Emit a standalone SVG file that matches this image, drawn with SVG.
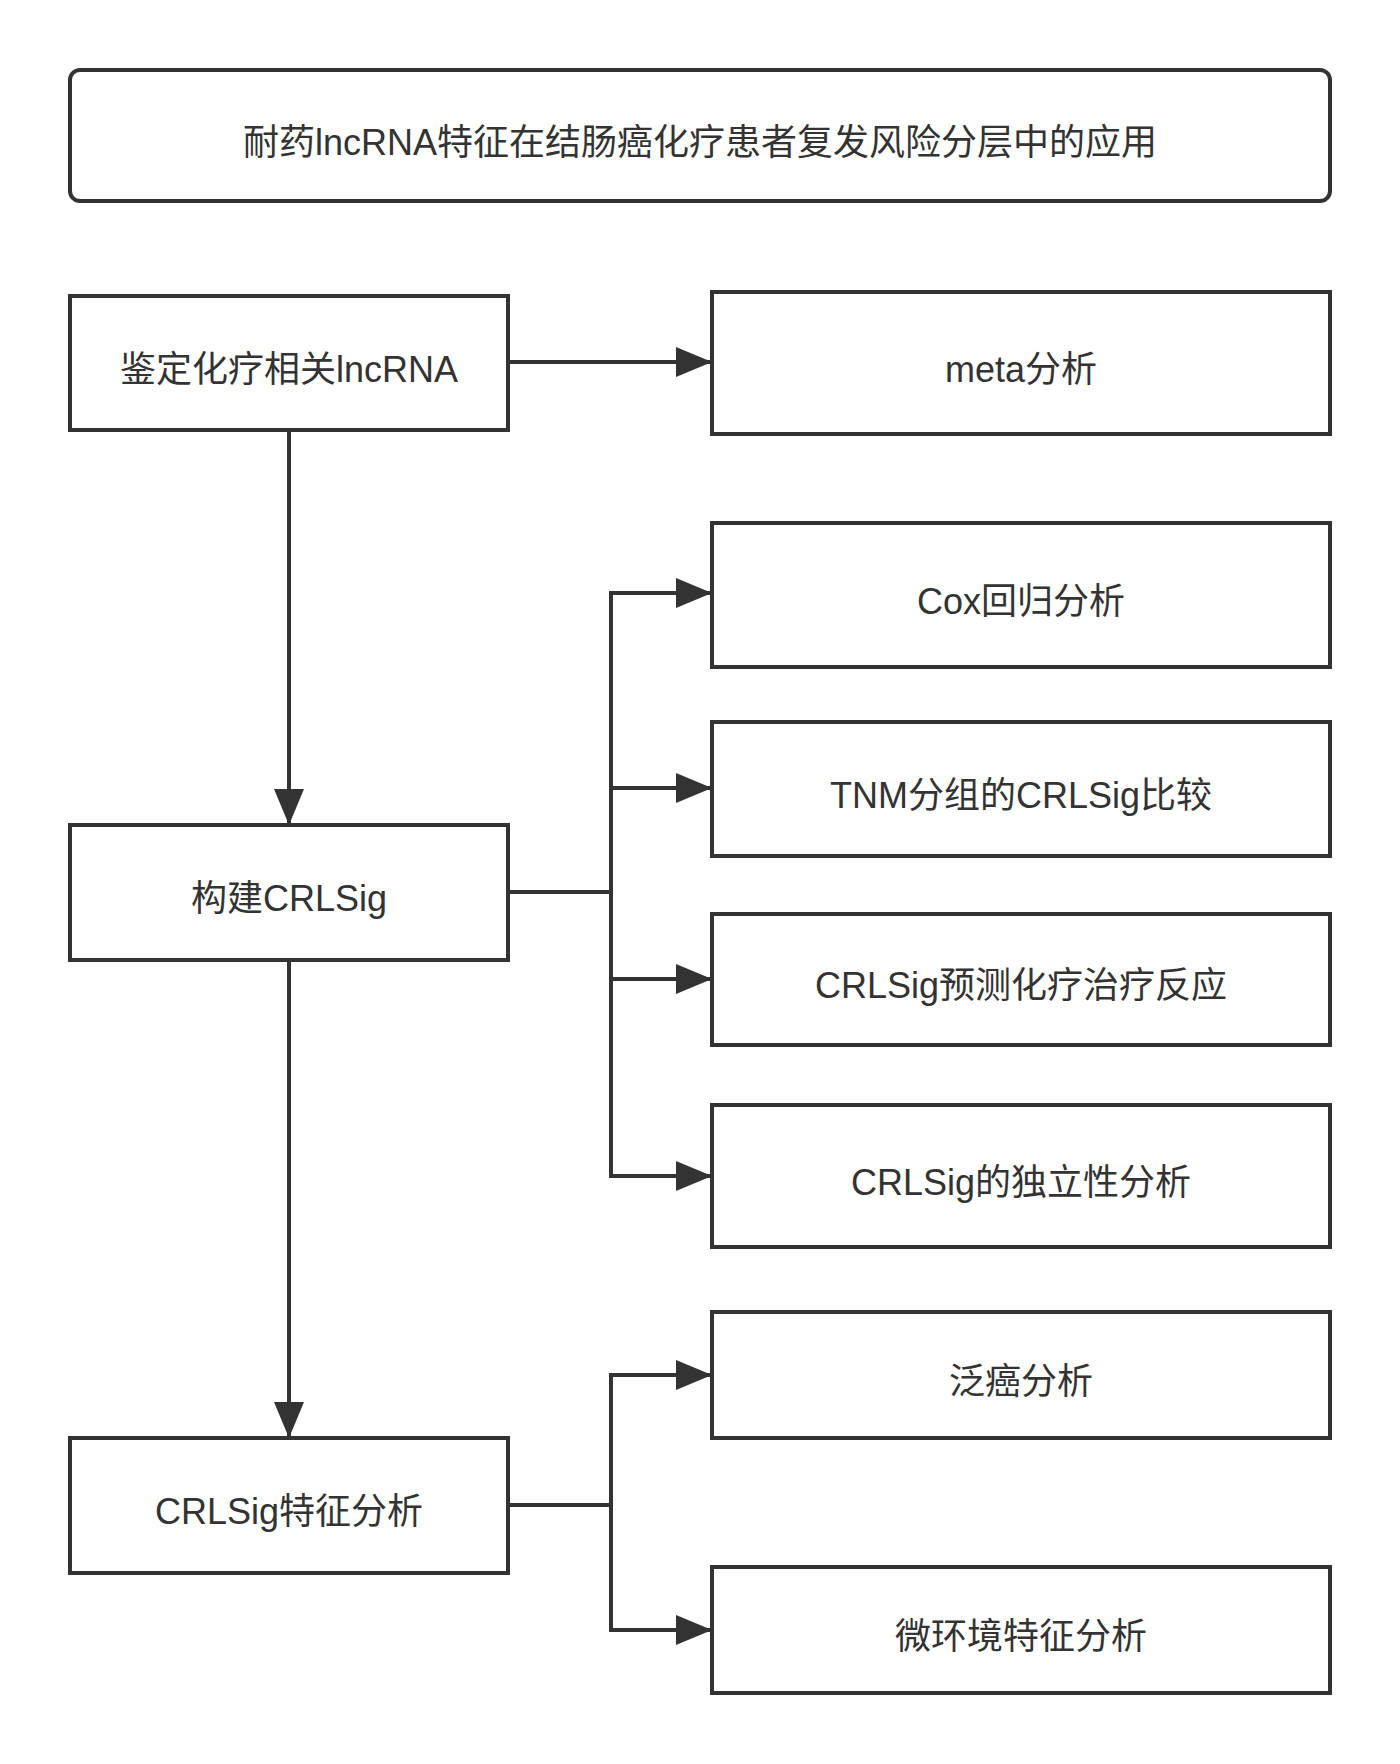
<svg xmlns="http://www.w3.org/2000/svg" width="1400" height="1764" viewBox="0 0 1400 1764">
<style>
.box{fill:#fff;stroke:#333;stroke-width:4}
.lbl{font-family:"Liberation Sans","Noto Sans CJK SC",sans-serif;font-size:36px;fill:#333;text-anchor:middle}
.edge{fill:none;stroke:#333;stroke-width:4;stroke-linejoin:miter}
</style>
<defs>
<marker id="arr" markerUnits="userSpaceOnUse" markerWidth="36" markerHeight="30" refX="36" refY="15" orient="auto">
<path d="M0,0 L36,15 L0,30 z" fill="#333"/>
</marker>
</defs>
<rect width="1400" height="1764" fill="#fff"/>
<g id="connectors">
<path class="edge" d="M508 362 H712" marker-end="url(#arr)"/>
<path class="edge" d="M289 430 V825" marker-end="url(#arr)"/>
<path class="edge" d="M289 960 V1438" marker-end="url(#arr)"/>
<path class="edge" d="M508 892 H611 V593 H712" marker-end="url(#arr)"/>
<path class="edge" d="M611 788 H712" marker-end="url(#arr)"/>
<path class="edge" d="M611 892 V1176 H712" marker-end="url(#arr)"/>
<path class="edge" d="M611 979 H712" marker-end="url(#arr)"/>
<path class="edge" d="M508 1505 H611 V1375 H712" marker-end="url(#arr)"/>
<path class="edge" d="M611 1505 V1630 H712" marker-end="url(#arr)"/>
</g>
<g id="title"><rect class="box" x="70" y="70" width="1260" height="131" rx="10"/><text class="lbl" x="700" y="155">耐药lncRNA特征在结肠癌化疗患者复发风险分层中的应用</text></g>
<g id="n1"><rect class="box" x="70" y="296" width="438" height="134"/><text class="lbl" x="289" y="382">鉴定化疗相关lncRNA</text></g>
<g id="meta"><rect class="box" x="712" y="292" width="618" height="142"/><text class="lbl" x="1021" y="382">meta分析</text></g>
<g id="n2"><rect class="box" x="70" y="825" width="438" height="135"/><text class="lbl" x="289" y="911">构建CRLSig</text></g>
<g id="cox"><rect class="box" x="712" y="523" width="618" height="144"/><text class="lbl" x="1021" y="614">Cox回归分析</text></g>
<g id="tnm"><rect class="box" x="712" y="722" width="618" height="134"/><text class="lbl" x="1021" y="808">TNM分组的CRLSig比较</text></g>
<g id="pred"><rect class="box" x="712" y="914" width="618" height="131"/><text class="lbl" x="1021" y="998">CRLSig预测化疗治疗反应</text></g>
<g id="indep"><rect class="box" x="712" y="1105" width="618" height="142"/><text class="lbl" x="1021" y="1195">CRLSig的独立性分析</text></g>
<g id="n3"><rect class="box" x="70" y="1438" width="438" height="135"/><text class="lbl" x="289" y="1524">CRLSig特征分析</text></g>
<g id="pan"><rect class="box" x="712" y="1312" width="618" height="126"/><text class="lbl" x="1021" y="1394">泛癌分析</text></g>
<g id="micro"><rect class="box" x="712" y="1567" width="618" height="126"/><text class="lbl" x="1021" y="1649">微环境特征分析</text></g>
</svg>
